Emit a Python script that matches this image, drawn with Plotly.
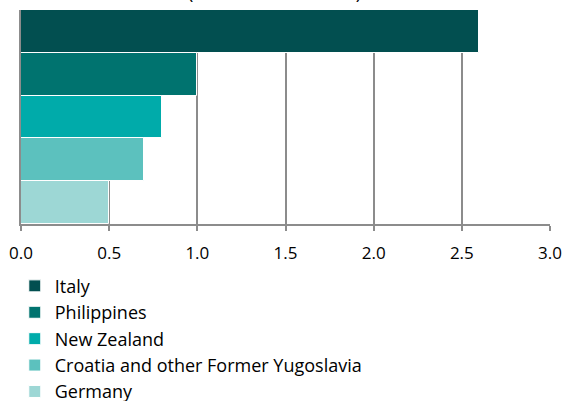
import plotly.graph_objects as go

countries = ["Italy", "Philippines", "New Zealand", "Croatia and other Former Yugoslavia", "Germany"]
values = [2.6, 1.0, 0.8, 0.7, 0.5]
colors = ["#024F50", "#00736F", "#00ABAA", "#5CC1BE", "#9DD7D5"]
tick_vals = [0.0, 0.5, 1.0, 1.5, 2.0, 2.5, 3.0]
tick_text = ["0.0", "0.5", "1.0", "1.5", "2.0", "2.5", "3.0"]
subtitle = "(thousand residents)"

FONT = "Open Sans"

fig = go.Figure()
for c, v, col in zip(countries, values, colors):
    fig.add_trace(go.Bar(
        x=[v], y=[c], orientation="h", name=c,
        marker=dict(color=col, line=dict(color="white", width=1)),
        width=1.0,
    ))

fig.update_layout(
    width=568, height=401,
    margin=dict(l=21, r=18, t=10, b=177, autoexpand=False),
    plot_bgcolor="white", paper_bgcolor="white",
    barmode="overlay", bargap=0,
    font=dict(family=FONT, size=16, color="#000000"),
    showlegend=True,
    legend=dict(
        orientation="v", xref="container", yref="container",
        x=0.026, xanchor="left", y=0.3325, yanchor="top",
        font=dict(family=FONT, size=18, color="#000000"),
        traceorder="normal", itemwidth=30, tracegroupgap=0,
        bgcolor="rgba(0,0,0,0)",
    ),
    xaxis=dict(
        range=[0, 3.0], tickvals=tick_vals, ticktext=tick_text,
        showgrid=True, gridcolor="#8C8C8C", gridwidth=1.5,
        zeroline=False, showline=True, linecolor="#8C8C8C", linewidth=1.5,
        ticks="outside", ticklen=5, tickcolor="#8C8C8C", tickwidth=1.5,
        ticklabelstandoff=8,
        tickfont=dict(family=FONT, size=17, color="#000000"),
        fixedrange=True,
    ),
    yaxis=dict(
        categoryorder="array", categoryarray=list(reversed(countries)),
        showticklabels=False, showgrid=False, zeroline=False,
        showline=True, linecolor="#8C8C8C", linewidth=1.5,
        range=[-0.5, 4.5], fixedrange=True,
    ),
    annotations=[dict(
        text=subtitle, xref="paper", yref="paper", x=0.48, y=1.019,
        xanchor="center", yanchor="bottom", showarrow=False,
        font=dict(family=FONT, size=18, color="#000000"),
    )],
)

fig.write_html("out.html")
